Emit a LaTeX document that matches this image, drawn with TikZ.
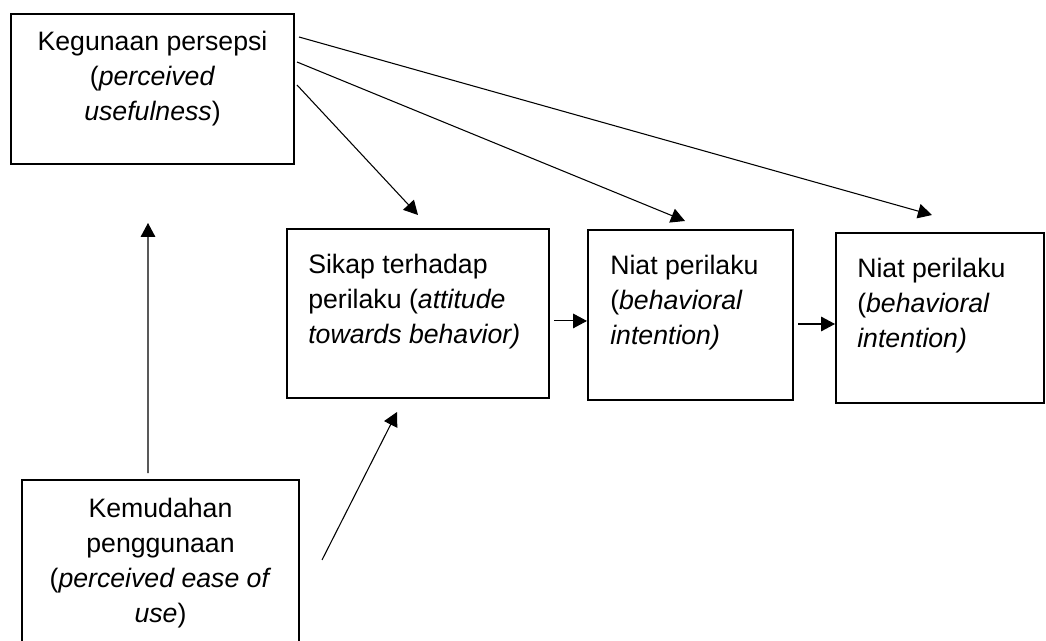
\documentclass[tikz,border=0pt]{standalone}
\usepackage{fontspec}
\setmainfont{Liberation Sans}
\usetikzlibrary{arrows.meta,positioning}

\begin{document}
\begin{tikzpicture}[x=0.75pt,y=-0.75pt,
    box/.style={draw, line width=1.5pt, inner sep=0pt},
    lbl/.style={inner sep=0pt, font=\fontsize{20}{26.25}\selectfont},
    arr/.style={line width=0.8pt, -{Triangle[length=10.5pt,width=11pt]}}]
        % Canvas
        \useasboundingbox (0,0) rectangle (1046,641);
        \clip (0,0) rectangle (1046,641);

        % Boxes
        \node[box, minimum width=212.25pt, minimum height=112.5pt] (useful) at (152.5,89) {};
        \node[box, minimum width=196.5pt, minimum height=126.75pt] (attitude) at (418,313.5) {};
        \node[box, minimum width=153.75pt, minimum height=127.5pt] (intentA) at (690.5,315) {};
        \node[box, minimum width=156pt, minimum height=127.5pt] (intentB) at (940,318) {};
        \node[box, minimum width=207.75pt, minimum height=127.5pt] (ease) at (160.5,565) {};

        % Texts
        \node[lbl, align=center, anchor=north] (usefulTxt) at ([yshift=-13.5pt]useful.north)
            {Kegunaan persepsi\\(\textit{perceived}\\\textit{usefulness})};
        \node[lbl, align=left, anchor=north west] (attitudeTxt) at ([xshift=16.5pt,yshift=-19.5pt]attitude.north west)
            {Sikap terhadap\\perilaku (\textit{attitude}\\\textit{towards behavior)}};
        \node[lbl, align=left, anchor=north west] (intentATxt) at ([xshift=17.25pt,yshift=-19.5pt]intentA.north west)
            {Niat perilaku\\(\textit{behavioral}\\\textit{intention)}};
        \node[lbl, align=left, anchor=north west] (intentBTxt) at ([xshift=16.5pt,yshift=-19.5pt]intentB.north west)
            {Niat perilaku\\(\textit{behavioral}\\\textit{intention)}};
        \node[lbl, align=center, anchor=north] (easeTxt) at ([yshift=-14.25pt]ease.north)
            {Kemudahan\\penggunaan\\(\textit{perceived ease of}\\\textit{use})};

        % Free arrow ends
        \coordinate (tipAtt) at (418,215);
        \coordinate (tipIntA) at (685,221);
        \coordinate (tipIntB) at (932,215);
        \coordinate (tipUse) at (148,223);
        \coordinate (easeFrom) at (322,560);
        \coordinate (easeTo) at (397,412);

        % Connections
        \draw[arr] ([xshift=1.5pt,yshift=3pt]useful.east) -- (tipAtt);
        \draw[arr] ([xshift=1.5pt,yshift=20.25pt]useful.east) -- (tipIntA);
        \draw[arr] ([xshift=3pt,yshift=39pt]useful.east) -- (tipIntB);
        \draw[arr] ([xshift=-9.4pt,yshift=4.5pt]ease.north) -- (tipUse);
        \draw[arr] (easeFrom) -- (easeTo);
        \draw[arr] ([xshift=3pt,yshift=-5.6pt]attitude.east) -- ([yshift=-5.6pt]attitude.east -| intentA.west);
        \draw[arr] ([xshift=3pt,yshift=-6.75pt]intentA.east) -- ([yshift=-6.75pt]intentA.east -| intentB.west);
      \end{tikzpicture}
\end{document}
